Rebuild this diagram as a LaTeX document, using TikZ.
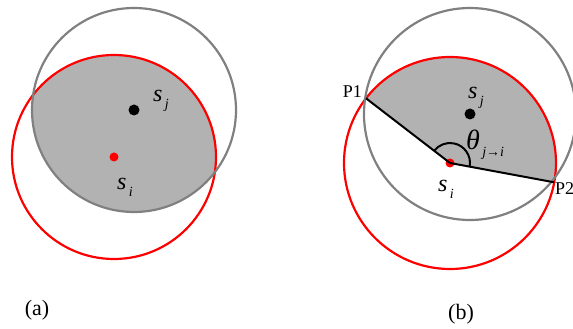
\documentclass[tikz,border=0pt]{standalone}
\usepackage{fontspec}
\setmainfont{Liberation Serif}
\usetikzlibrary{calc}

\newcommand{\idx}[1]{\raisebox{-7pt}{\fontsize{14}{14}\selectfont\,#1}}

\begin{document}
\begin{tikzpicture}[x=1pt, y=1pt,
    ring/.style={line width=2.2pt},
    grayring/.style={ring, draw=black!50},
    redring/.style={ring, draw=red},
    overlap/.style={fill=black!30},
    dotblk/.style={circle, fill=black, inner sep=0pt, minimum size=11pt},
    dotred/.style={circle, fill=red, inner sep=0pt, minimum size=9pt},
    spoke/.style={line width=2pt, draw=black},
    lbl/.style={font=\fontsize{24}{24}\selectfont\itshape, inner sep=0pt, anchor=base west},
    tag/.style={font=\fontsize{22}{22}\selectfont, inner sep=0pt},
    ptlbl/.style={font=\fontsize{18}{18}\selectfont, inner sep=0pt}
  ]
  \useasboundingbox (0,0) rectangle (573,329);

  % (a) overlap of the two ranges
  \coordinate (ja) at (134,219);
  \coordinate (ia) at (114,172);
  \begin{scope}
    \clip (ja) circle[radius=102pt];
    \fill[overlap] (ia) circle[radius=102pt];
  \end{scope}
  \draw[redring] (ia) circle[radius=102pt];
  \draw[grayring] (ja) circle[radius=102pt];
  \node[dotblk] (sja) at (ja) {};
  \node[dotred] (sia) at (ia) {};
  \node[lbl] (lja) at (153,227) {s\idx{j}};
  \node[lbl] (lia) at (117,139) {s\idx{i}};
  \node[tag] (capa) at (37,19) {(a)};

  % (b) sector between P1 and P2
  \coordinate (jb) at (470,215);
  \coordinate (ib) at (450,166);
  \path (ib) ++(142.4:106pt) coordinate (p1);
  \path (ib) ++(-10.5:106pt) coordinate (p2);
  \fill[overlap] (ib) -- (p1) arc[start angle=142.4, end angle=-10.5, radius=106pt] -- cycle;
  \draw[redring] (ib) circle[radius=106pt];
  \draw[grayring] (jb) circle[radius=106pt];
  \node[dotblk] (sjb) at (jb) {};
  \node[dotred] (sib) at (ib) {};
  \draw[spoke] (sib.center) -- (p1);
  \draw[spoke] (sib.center) -- (p2);
  \draw[spoke] ($(ib)+(-10.5:20pt)$) arc[start angle=-10.5, end angle=142.4, radius=20pt];
  \node[ptlbl, anchor=base east] (lp1) at (362,231) {P1};
  \node[ptlbl, anchor=base west] (lp2) at (555,134) {P2};
  \node[lbl] (ljb) at (468,230) {s\idx{j}};
  \node[lbl] (lib) at (438,137) {s\idx{i}};
  \node[lbl, font=\fontsize{28}{28}\selectfont\itshape] (th) at (466,179) {θ\idx{j→i}};
  \node[tag] (capb) at (461,15) {(b)};
\end{tikzpicture}
\end{document}
